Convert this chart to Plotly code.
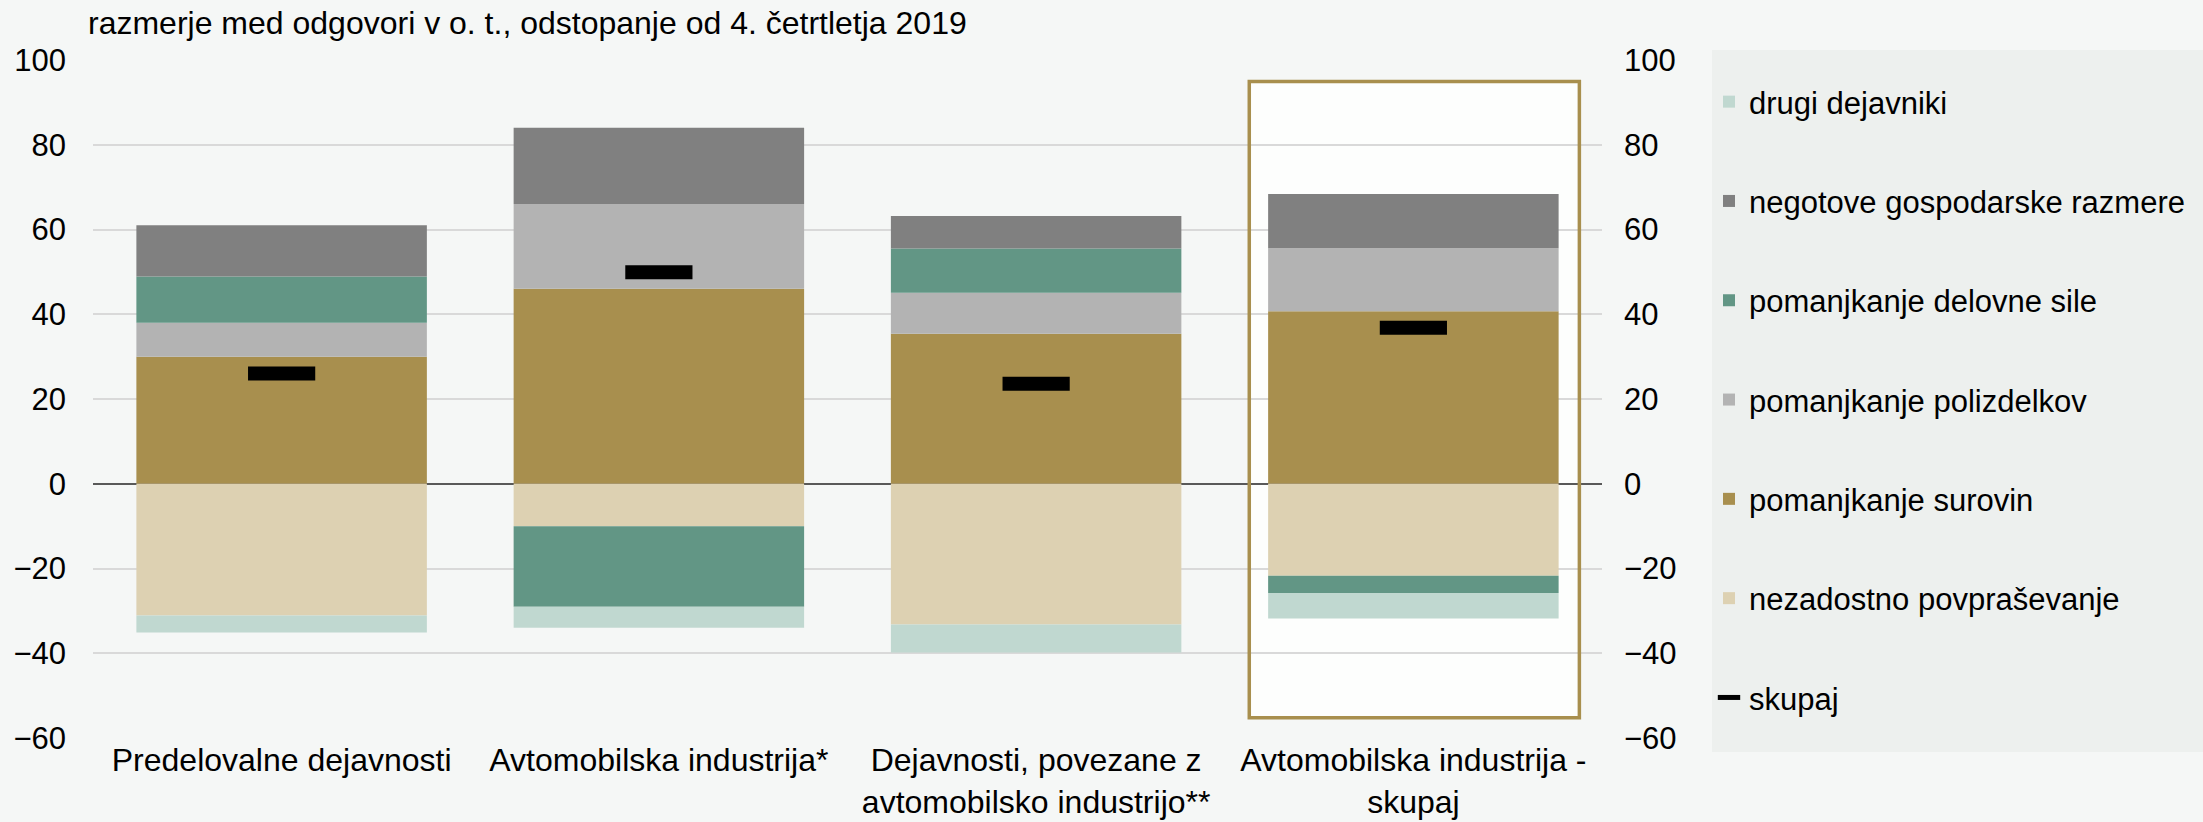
import plotly.graph_objects as go

categories = ["Predelovalne dejavnosti", "Avtomobilska industrija*",
              "Dejavnosti, povezane z<br>avtomobilsko industrijo**",
              "Avtomobilska industrija -<br>skupaj"]

surovin = [30.0, 46.0, 35.4, 40.7]          # pomanjkanje surovin
nezadostno = [-31.1, -10.0, -33.2, -21.7]   # nezadostno povpraševanje
polizdelkov = [8.0, 20.0, 9.7, 14.9]        # pomanjkanje polizdelkov
delovne = [10.9, -19.0, 10.4, -4.1]         # pomanjkanje delovne sile
negotove = [12.1, 18.0, 7.7, 12.8]          # negotove gospodarske razmere
drugi = [-4.0, -5.0, -6.6, -6.0]            # drugi dejavniki
skupaj = [26.0, 49.9, 23.6, 36.8]

FONT = "Liberation Sans, Arial, sans-serif"
W, H = 2203, 822
L, R, T, B = 93, 601, 60, 84
PW, PH = W - L - R, H - T - B

def px_x(p):
    return (p - L) / PW

def px_y(p):
    return (H - B - p) / PH

fig = go.Figure()

series = [
    ("pomanjkanje surovin", surovin, "#A88F4E", 5),
    ("nezadostno povpraševanje", nezadostno, "#DDD1B2", 6),
    ("pomanjkanje polizdelkov", polizdelkov, "#B3B3B3", 4),
    ("pomanjkanje delovne sile", delovne, "#629685", 3),
    ("negotove gospodarske razmere", negotove, "#808080", 2),
    ("drugi dejavniki", drugi, "#C0D8D0", 1),
]
for name, vals, col, rank in series:
    fig.add_trace(go.Bar(x=categories, y=vals, name=name, marker_color=col,
                         marker_line_width=0, legendrank=rank, legendgroup=name))

fig.add_trace(go.Scatter(x=categories, y=skupaj, name="skupaj", mode="markers",
                         marker=dict(symbol="line-ew-open", size=48,
                                     line=dict(width=14, color="black"), color="black"),
                         legendrank=7, legendgroup="skupaj"))

# invisible trace for right axis
fig.add_trace(go.Scatter(x=categories, y=skupaj, yaxis="y2", mode="markers",
                         marker=dict(opacity=0), showlegend=False, hoverinfo="skip"))

yax = dict(range=[-60, 100], dtick=20, showgrid=True, gridcolor="#D9D9D9", gridwidth=2,
           zeroline=True, zerolinecolor="#595959", zerolinewidth=1.5,
           tickfont=dict(family=FONT, size=31, color="black"), ticks="",
           ticklabelstandoff=26, showline=False, fixedrange=True, automargin=False)

fig.update_layout(
    width=W, height=H,
    margin=dict(l=L, r=R, t=T, b=B, autoexpand=False),
    paper_bgcolor="#F5F7F6", plot_bgcolor="rgba(0,0,0,0)",
    barmode="relative", bargap=0.23,
    font=dict(family=FONT, size=31, color="black"),
    xaxis=dict(tickfont=dict(family=FONT, size=32, color="black"), showgrid=False,
               ticks="", ticklabelstandoff=0, showline=False, automargin=False),
    yaxis=yax,
    yaxis2=dict(yax, overlaying="y", side="right", showgrid=False, zeroline=False,
                ticklabelstandoff=21),
    legend=dict(x=px_x(1709), y=px_y(75), xanchor="left", yanchor="top",
                bgcolor="rgba(0,0,0,0)", font=dict(family=FONT, size=31, color="black"),
                tracegroupgap=56, itemwidth=30, traceorder="grouped", maxheight=780),
    showlegend=True,
)

# legend background panel
fig.add_shape(type="rect", xref="paper", yref="paper", x0=px_x(1712), x1=px_x(2203),
              y0=px_y(752), y1=px_y(50), fillcolor="#EDF0EE", line_width=0, layer="below")
# highlight rectangle around last category
fig.add_shape(type="rect", xref="x", yref="y", x0=2.565, x1=3.44, y0=-55.2, y1=94.9,
              fillcolor="#FDFEFD", line_width=0, layer="below")
fig.add_shape(type="rect", xref="x", yref="y", x0=2.565, x1=3.44, y0=-55.2, y1=94.9,
              fillcolor="rgba(0,0,0,0)", line=dict(color="#A88F4E", width=3.5), layer="above")

fig.add_annotation(text="razmerje med odgovori v o. t., odstopanje od 4. četrtletja 2019",
                   xref="paper", yref="paper", x=px_x(86), y=px_y(23),
                   xanchor="left", yanchor="middle", showarrow=False,
                   font=dict(family=FONT, size=32, color="black"))

fig.write_html("out.html", config={"displayModeBar": False},
               post_script="document.body.style.margin='0';document.body.style.padding='0';")
